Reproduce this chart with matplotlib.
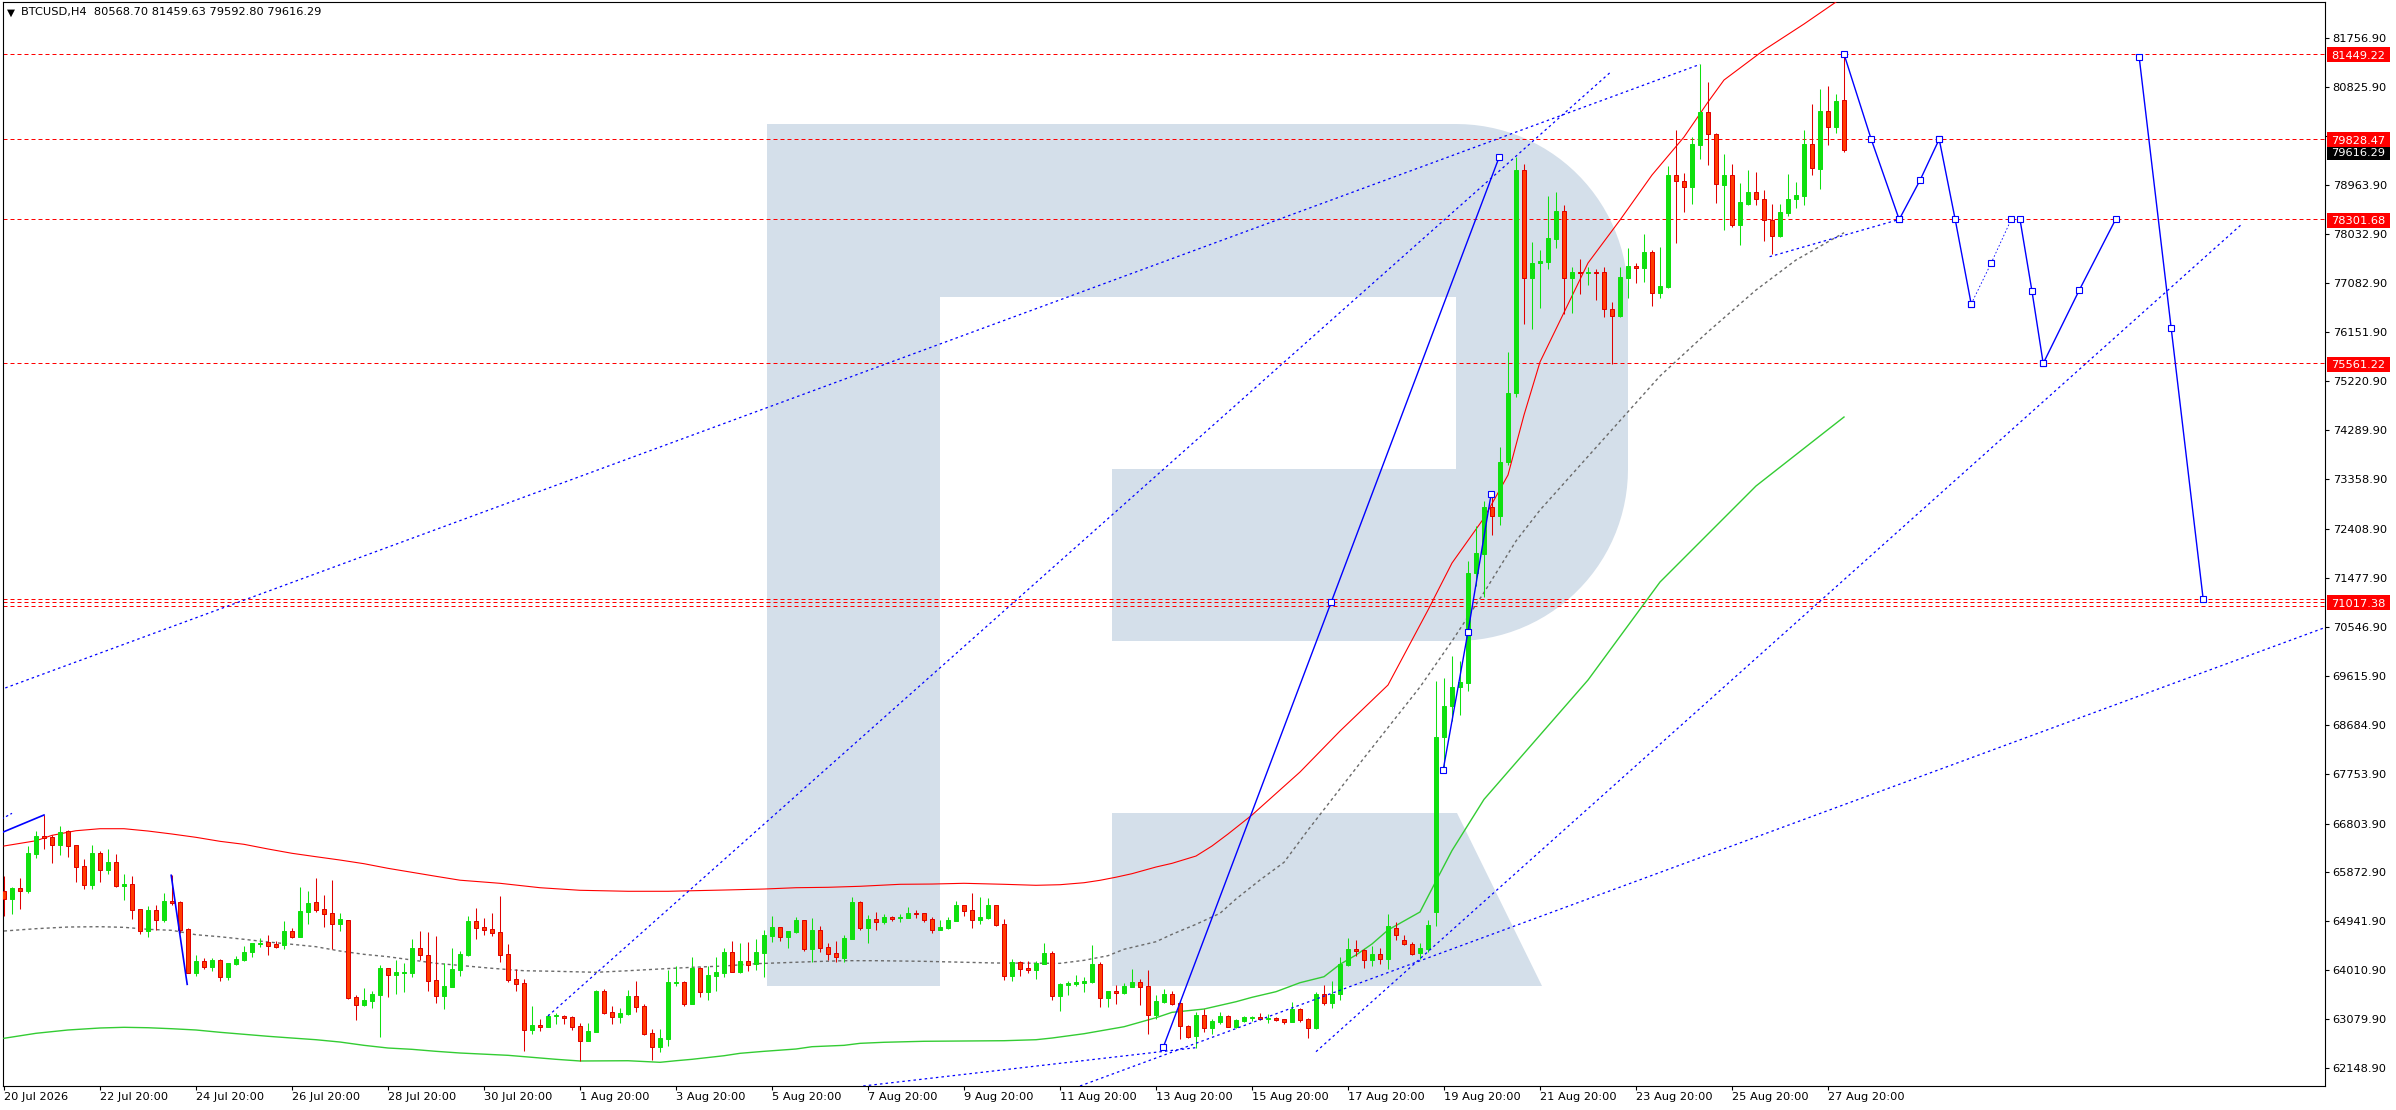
import numpy as np
import matplotlib
matplotlib.use("Agg")
import matplotlib.pyplot as plt
from matplotlib.patches import Rectangle, Polygon
from matplotlib.transforms import IdentityTransform

plt.rcParams['font.family'] = ['DejaVu Sans']

# ------------------------------------------------------------------ data
opens = [
    65519, 65374, 65570, 65526, 66230, 66566, 66547, 66401, 66655, 66395,
    65995, 65640, 66243, 65926, 66071, 65621, 65653, 65177, 64765, 65158,
    64974, 65329, 65310, 64796, 63965, 64181, 64079, 64200, 63889, 64136,
    64213, 64352, 64517, 64549, 64511, 64485, 64758, 64650, 65126, 65310,
    65177, 65101, 64898, 64961, 63502, 63350, 63432, 63546, 64054, 63927,
    63965, 63965, 64435, 64301, 63826, 63527, 63699, 64022, 64301,
    64948, 64834, 64796, 64733, 64320, 63845, 63769, 62880, 62969, 62937, 63134,
    63147, 63121, 62944, 62671, 62842, 63616, 63216, 63121, 63178, 63521,
    63331, 62817, 62557, 62703, 63769, 63788, 63375, 64060, 63604, 63908,
    63965, 64358, 63984, 64187, 64130, 64346, 64663, 64834, 64650, 64739,
    64968, 64422, 64777, 64454, 64340, 64244, 64606, 65310, 64822, 64987,
    64936, 65018, 64999, 65006, 65101, 65094,
    64987, 64784, 64815, 64955, 65253, 65158, 64974, 65006, 65253, 64891,
    63908, 64168, 64060, 64022, 64136, 64340, 63527, 63737, 63756, 63775,
    63794, 64130, 63489, 63610, 63572, 63699, 63781, 63711, 63166, 63413,
    63559, 63388, 62950, 62766, 63160, 62918, 63026, 63140, 62937, 63052,
    63096, 63115, 63090, 63102, 63083, 63033, 63274, 63083, 62918, 63565,
    63394, 63565, 64117, 64416, 64397, 64213, 64320, 64232,
    64815, 64587, 64511, 64333, 64416,
    65124, 68450, 69040, 69402, 69478, 71581, 71934, 72828, 72657, 73684, 74998,
    79242, 77193, 77466, 77498, 77935, 78456, 77193, 77301, 77276, 77307,
    77295, 76590, 76470, 77193, 77409, 77383, 77682, 76895, 77022, 79147,
    79026, 78912, 79724, 80346, 79921, 78963, 79141, 78189, 78601, 78817,
    78684, 78297, 77980, 78430, 78684, 78754, 79737, 79268, 80365, 80067, 80568.70]

highs = [
    65805, 65589, 65767, 66382, 66661, 66966, 66592, 66757, 66680, 66395,
    66128, 66395, 66274, 66319, 66224, 65843, 65805, 65177, 65234, 65253,
    65481, 65818, 65329, 64815, 64301, 64244, 64244, 64225, 64143, 64282,
    64479, 64523, 64619, 64682, 64574, 64948, 64822, 65596, 65526, 65767,
    65443, 65735, 65101, 64961, 63540, 63673, 63616, 64117, 64054, 64213,
    64155, 64606, 64758, 64739, 64663, 64149, 64435, 64384, 65044,
    65196, 65006, 65101, 65431, 64511, 64035, 63838, 63337, 63083, 63172, 63191,
    63159, 63140, 63007, 63007, 63635, 63654, 63331, 63293, 63635, 63807,
    63369, 62893, 62893, 64016, 64092, 63807, 64263, 64079, 64092, 64263,
    64435, 64568, 64530, 64549, 64606, 64777, 65044, 64834, 64758, 65018,
    64968, 65006, 64847, 64530, 64568, 64682, 65405, 65329, 65063, 65120,
    65082, 65044, 65082, 65215, 65158, 65094,
    65018, 64968, 65018, 65329, 65253, 65481, 65405, 65386, 65253, 64987,
    64225, 64187, 64187, 64187, 64530, 64378, 63775, 63813, 63927, 63889,
    64492, 64168, 63616, 63724, 63775, 64035, 63845, 64016, 63546, 63654,
    63616, 63420, 62969, 63223, 63274, 63083, 63216, 63153, 63083, 63140,
    63140, 63197, 63178, 63121, 63083, 63407, 63293, 63102, 63604, 63737,
    63813, 64263, 64625, 64587, 64416, 64473, 64435, 65082,
    64930, 64682, 64554, 64535, 64977,
    69516, 69573, 69992, 69897, 71800, 72466, 72933, 73018, 73970, 75778, 79497,
    79350, 77866, 77720, 78754, 78817, 78576, 77396, 77542, 77396, 77358,
    77396, 76724, 77396, 77758, 77466, 78030, 77720, 77777, 79325, 79997,
    79185, 79864, 81253, 80911, 79940, 79547, 79350, 78995, 79242, 79204,
    78862, 78595, 78595, 79166, 79014, 80003, 80498, 80784, 80841, 80689, 81459.63]

lows = [
    65050, 65088, 65177, 65488, 66154, 66319, 66059, 66205, 66173, 65697,
    65558, 65558, 65697, 65849, 65589, 65355, 64993, 64707, 64650, 64771,
    64936, 65253, 64726, 63952, 63908, 64035, 64003, 63813, 63826, 64117,
    64194, 64270, 64454, 64308, 64441, 64422, 64631, 64650, 64898, 65126,
    64841, 64422, 64765, 63464, 63064, 63331, 63299, 62747, 63508, 63566,
    63604, 63889, 64206, 63623, 63394, 63280, 63699, 63908, 64282,
    64612, 64688, 64669, 64175, 63794, 63623, 62481, 62804, 62855, 62937, 62988,
    62995, 62868, 62284, 62671, 62842, 63178, 62995, 63014, 63159, 63223,
    62785, 62303, 62462, 62576, 63718, 63337, 63375, 63508, 63451, 63623,
    63889, 63984, 63965, 64003, 64022, 63889, 64549, 64568, 64435, 64720,
    64384, 64168, 64358, 64206, 64168, 64168, 64606, 64777, 64530, 64777,
    64891, 64948, 64929, 65006, 65006, 64929,
    64720, 64784, 64796, 64955, 65044, 64815, 64891, 64987, 64853, 63832,
    63813, 63908, 63965, 63851, 64136, 63451, 63242, 63546, 63718, 63604,
    63775, 63318, 63318, 63375, 63565, 63686, 63356, 62804, 63090, 63394,
    63356, 62709, 62728, 62538, 62842, 62804, 62994, 62937, 62918, 63026,
    63052, 63071, 63014, 63052, 62995, 63033, 63033, 62728, 62899, 63356,
    63299, 63451, 64098, 64282, 64060, 64098, 64136, 64041,
    64587, 64492, 64301, 64219, 64365,
    64853, 67841, 68755, 68869, 69326, 71324, 71124, 72295, 72495, 73627, 74921,
    76320, 76222, 76622, 77364, 77764, 76495, 76514, 76876, 77047, 76768,
    76451, 75544, 76451, 76800, 77098, 77117, 76660, 76812, 77003, 77846,
    78449, 78601, 79458, 79344, 78620, 78107, 78164, 77821, 78582, 78582,
    77891, 77643, 77967, 78373, 78525, 78582, 79153, 78887, 79724, 79953, 79592.80]

closes = [
    65374, 65570, 65526, 66243, 66566, 66534, 66401, 66636, 66382, 65983,
    65640, 66243, 65926, 66071, 65621, 65646, 65164, 64765, 65158, 64974,
    65329, 65297, 64784, 63965, 64181, 64079, 64206, 63889, 64143, 64225,
    64352, 64523, 64536, 64479, 64460, 64758, 64650, 65139, 65291, 65164,
    65088, 64898, 64987, 63483, 63356, 63445, 63566, 64054, 63927, 63984,
    63984, 64435, 64295, 63813, 63527, 63711, 64035, 64320, 64948,
    64822, 64784, 64726, 64308, 63832, 63756, 62880, 62969, 62937, 63140, 63153,
    63109, 62937, 62671, 62855, 63616, 63197, 63128, 63197, 63521, 63318,
    62804, 62557, 62722, 63788, 63788, 63375, 64060, 63604, 63921, 63978,
    64358, 63984, 64187, 64117, 64358, 64682, 64834, 64650, 64758, 64968,
    64422, 64777, 64441, 64327, 64270, 64625, 65310, 64822, 64987, 64936,
    65018, 64987, 65025, 65101, 65082, 64974,
    64777, 64834, 64968, 65253, 65145, 64974, 65025, 65253, 64872, 63908,
    64174, 64041, 64022, 64149, 64340, 63527, 63756, 63775, 63794, 63813,
    64130, 63489, 63616, 63572, 63718, 63781, 63699, 63166, 63426, 63559,
    63375, 62956, 62747, 63160, 62918, 63045, 63140, 62937, 63064, 63121,
    63115, 63083, 63102, 63071, 63033, 63274, 63064, 62918, 63565, 63394,
    63565, 64130, 64416, 64378, 64213, 64320, 64232, 64853,
    64682, 64511, 64320, 64440, 64879,
    68450, 69040, 69402, 69497, 71581, 71952, 72828, 72657, 73684, 74998, 79242,
    77193, 77466, 77510, 77942, 78456, 77193, 77301, 77276, 77301, 77288,
    76590, 76470, 77199, 77415, 77383, 77682, 76895, 77034, 79147, 79026,
    78912, 79737, 80346, 79921, 78969, 79141, 78189, 78627, 78817, 78684,
    78297, 77980, 78436, 78684, 78760, 79737, 79274, 80365, 80067, 80555, 79616.29]

# Bollinger-type bands (bar index, value)
red_bars = [0, 4, 6, 9, 12, 15, 18, 21, 24, 27, 30, 33, 36, 39, 42, 45, 48, 51, 54, 57,
            62, 67, 72, 78, 83, 90, 95, 99, 103, 107, 112, 116, 120, 125, 129, 132, 135, 137, 139, 141,
            144, 146, 149, 151, 153, 156, 162, 167, 173, 178, 181, 185, 188, 190, 192, 198, 202, 206, 210, 213,
            215, 220, 225, 229]
red_vals = [66376, 66476, 66579, 66667, 66705, 66705, 66661, 66604, 66541, 66465,
            66408, 66319, 66237, 66172, 66109, 66039, 65951, 65875, 65799, 65725,
            65666, 65582, 65533, 65514, 65514, 65538, 65557, 65582, 65590, 65609,
            65647, 65652, 65666, 65647, 65628, 65639, 65677, 65723, 65782, 65849,
            65976, 66046, 66185, 66376, 66604, 66966, 67784, 68564, 69440, 70867,
            71762, 72619, 73437, 74579, 75588, 77472, 78290, 79147, 79870, 80536,
            80955, 81526, 82021, 82440]
gray_bars = [0, 4, 8, 12, 15, 18, 21, 24, 27, 30, 33, 36, 39, 42, 45, 48, 51, 54, 57, 61,
             65, 69, 74, 78, 82, 86, 90, 94, 101, 105, 109, 115, 124, 132, 135, 138, 140, 144, 146, 149,
             152, 154, 157, 160, 163, 170, 177, 181, 185, 189, 192, 207, 213, 219, 224, 230]
gray_vals = [64758, 64802, 64834, 64840, 64828, 64790, 64771, 64687, 64649, 64600,
             64549, 64505, 64459, 64377, 64314, 64269, 64206, 64143, 64103, 64048,
             64002, 63991, 63972, 64002, 64035, 64067, 64092, 64136, 64174, 64193,
             64193, 64181, 64149, 64143, 64200, 64288, 64410, 64554, 64695, 64885,
             65095, 65367, 65729, 66065, 66680, 68051, 69402, 70277, 71201, 72181,
             72770, 75321, 76164, 76958, 77529, 78049]
green_bars = [0, 4, 8, 12, 15, 18, 21, 24, 27, 30, 33, 36, 39, 42, 45, 48, 51, 54, 57, 63,
              69, 72, 78, 82, 84, 86, 90, 92, 95, 99, 101, 105, 107, 110, 115, 125, 129, 131, 135, 140,
              144, 146, 150, 154, 156, 159, 162, 165, 167, 169, 171, 173, 177, 179, 181, 185, 190, 198, 207, 219,
              230]
green_vals = [62716, 62811, 62874, 62912, 62925, 62917, 62898, 62874, 62830, 62792,
              62754, 62721, 62689, 62645, 62582, 62531, 62506, 62468, 62436, 62392,
              62316, 62284, 62289, 62259, 62289, 62316, 62384, 62430, 62468, 62512,
              62556, 62582, 62620, 62640, 62659, 62670, 62689, 62721, 62803, 62936,
              63108, 63210, 63273, 63412, 63496, 63603, 63774, 63888, 64124, 64301,
              64511, 64777, 65120, 65709, 66290, 67263, 68138, 69535, 71400, 73228,
              74541]

# horizontal levels
levels = [81449.22, 79828.47, 78301.68, 75561.22]
level_labels = ["81449.22", "79828.47", "78301.68", "75561.22"]
cluster_levels = [71082.0, 71017.38, 70952.0]
cluster_label = "71017.38"
last_price = 79616.29
last_label = "79616.29"

# dotted trend lines: (x0, x1), (y0, y1)
trend_x = [(-0.5, 212.0), (68.0, 200.8), (107.4, 149.0), (134.5, 290.2), (164.0, 279.6), (220.7, 236.9)]
trend_y = [(69347, 81253), (63140, 81102), (61808, 62538), (61808, 70538), (62461, 78195), (77592, 78301)]

# zig-zag / forecast segments (solid unless flagged dotted)
zz_x = [[144.9, 165.9, 186.9], [179.9, 183.0, 185.9],
        [230.0, 233.4, 236.9], [236.9, 239.5, 241.9], [241.9, 243.9, 245.9],
        [245.9, 248.4, 250.9], [252.0, 253.5, 254.9], [254.9, 259.4, 263.95],
        [266.9, 270.9, 274.9]]
zz_y = [[62544, 71017, 79489], [67826, 70453, 73079],
        [81449, 79828, 78301], [78301, 79046, 79828], [79828, 78301, 76692],
        [76692, 77472, 78301], [78301, 76933, 75561], [75561, 76953, 78301],
        [81387, 76229, 71071]]
zz_dotted = [False, False, False, False, False, True, False, False, False]
left_x = [[-0.2, 5.0], [20.9, 22.9]]
left_y = [[66636, 66966], [65818, 63743]]
left_dash_x = [-0.3, 1.0]
left_dash_y = [66890, 66998]

price_ticks = [81756.90, 80825.90, 79894.90, 78963.90, 78032.90, 77082.90, 76151.90,
               75220.90, 74289.90, 73358.90, 72408.90, 71477.90, 70546.90, 69615.90,
               68684.90, 67753.90, 66803.90, 65872.90, 64941.90, 64010.90, 63079.90, 62148.90]
date_ticks = list(range(0, 229, 12))
date_labels = ["20 Jul 2026", "22 Jul 20:00", "24 Jul 20:00", "26 Jul 20:00", "28 Jul 20:00",
               "30 Jul 20:00", "1 Aug 20:00", "3 Aug 20:00", "5 Aug 20:00", "7 Aug 20:00",
               "9 Aug 20:00", "11 Aug 20:00", "13 Aug 20:00", "15 Aug 20:00", "17 Aug 20:00",
               "19 Aug 20:00", "21 Aug 20:00", "23 Aug 20:00", "25 Aug 20:00", "27 Aug 20:00"]
title = "BTCUSD,H4  80568.70 81459.63 79592.80 79616.29"

# ------------------------------------------------------------------ figure
W, H, DPI = 2396, 1110, 100
fig = plt.figure(figsize=(W / DPI, H / DPI), dpi=DPI, facecolor='white')
L, T, R_, B = 3, 2, 2325, 1086
ax = fig.add_axes([L / W, (H - B) / H, (R_ - L) / W, (B - T) / H])
ax.set_facecolor('white')
ax.set_xlim(-0.125, 290.125)
ax.set_ylim(61808, 82440)

# ---- watermark logo (pixel geometry -> axes fraction)
def pxa(pts):
    return [((x - L) / (R_ - L), (B - y) / (B - T)) for x, y in pts]

logo_c = '#d4dfea'
rad = 172
t1 = np.linspace(np.pi / 2, 0, 30)
t2 = np.linspace(0, -np.pi / 2, 30)
bowl = [(767, 124)]
bowl += [(1628 - rad + rad * np.cos(t), 124 + rad - rad * np.sin(t)) for t in t1]
bowl += [(1628 - rad + rad * np.cos(t), 641 - rad - rad * np.sin(t)) for t in t2]
bowl += [(767, 641)]
ax.add_patch(Polygon(pxa(bowl), closed=True, transform=ax.transAxes, fc=logo_c, ec='none', zorder=0))
ax.add_patch(Polygon(pxa([(767, 124), (940, 124), (940, 986), (767, 986)]), closed=True,
                     transform=ax.transAxes, fc=logo_c, ec='none', zorder=0))
ax.add_patch(Polygon(pxa([(940, 297), (1456, 297), (1456, 469), (1112, 469), (1112, 641), (940, 641)]),
                     closed=True, transform=ax.transAxes, fc='white', ec='none', zorder=0.1))
ax.add_patch(Polygon(pxa([(1112, 813), (1457, 813), (1542, 986), (1112, 986)]), closed=True,
                     transform=ax.transAxes, fc=logo_c, ec='none', zorder=0.1))

# ---- horizontal levels
for lv in levels + cluster_levels:
    ax.axhline(lv, color='#ff0000', lw=0.72, ls=(0, (4, 3)), zorder=2)

# ---- bands
ax.plot(red_bars, red_vals, color='#ff0000', lw=0.8, zorder=3, solid_joinstyle='round')
ax.plot(gray_bars, gray_vals, color='#6a6a6a', lw=1.0, ls=(0, (2.2, 2.2)), zorder=3)
ax.plot(green_bars, green_vals, color='#33cc33', lw=1.0, zorder=3)

# ---- candles
o = np.array(opens, float); h = np.array(highs, float)
lo = np.array(lows, float); c = np.array(closes, float)
x = np.arange(len(o))
up = c >= o
dn = ~up
g_col = '#0fe00f'
r_fill = '#ff3c00'
r_edge = '#e00000'
ax.vlines(x[up], lo[up], h[up], color=g_col, lw=0.75, zorder=4)
ax.vlines(x[dn], lo[dn], h[dn], color=r_edge, lw=0.75, zorder=4)
ax.bar(x[up], (c - o)[up], bottom=o[up], width=0.5, color=g_col, edgecolor=g_col, lw=0.72, zorder=5)
ax.bar(x[dn], (o - c)[dn], bottom=c[dn], width=0.5, color=r_fill, edgecolor=r_edge, lw=0.72, zorder=5)

# ---- dotted trend lines
for tx, ty in zip(trend_x, trend_y):
    ax.plot(tx, ty, color='#0000ff', lw=0.9, ls=(0, (2, 2.5)), zorder=6)

# ---- zig-zags
for zx, zy, dot in zip(zz_x, zz_y, zz_dotted):
    ax.plot(zx, zy, color='#0000ff', lw=0.6 if dot else 1.0, ls=(0, (2, 2.5)) if dot else '-',
            marker='s', ms=4.2, mfc='white', mec='#0000ff', mew=0.8, zorder=7)
for lx, ly in zip(left_x, left_y):
    ax.plot(lx, ly, color='#0000ff', lw=1.2, zorder=7)
ax.plot(left_dash_x, left_dash_y, color='#0000ff', lw=0.9, ls=(0, (2, 2)), zorder=7)

# ---- axes styling
for sp in ax.spines.values():
    sp.set_color('black'); sp.set_linewidth(0.8)
ax.yaxis.tick_right()
ax.set_yticks(price_ticks)
ax.set_yticklabels([f"{v:.2f}" for v in price_ticks])
ax.set_xticks(date_ticks)
ax.set_xticklabels(date_labels, ha='left')
ax.tick_params(axis='y', direction='out', length=3, width=0.8, pad=2.5, labelsize=8.2, colors='black')
ax.tick_params(axis='x', direction='out', length=3, width=0.8, pad=1.5, labelsize=8.2, colors='black')

# ---- title
fig.text(7 / W, 1 - 13 / H, '\u25bc', fontsize=7.5, va='center', ha='left', color='black')
fig.text(21 / W, 1 - 12.5 / H, title, fontsize=8.2, va='center', ha='left', color='black')

# ---- price boxes on the right axis
ident = IdentityTransform()

def price_box(level, text, fc, z, dy=-0.7):
    yp = ax.transData.transform((0, level))[1] + dy
    fig.add_artist(Rectangle((2327, yp - 7.5), 63, 15, transform=ident, facecolor=fc,
                             edgecolor='none', zorder=z))
    fig.text(2358.5, yp, text, transform=ident, ha='center', va='center_baseline',
             color='white', fontsize=8.2, zorder=z + 1)

price_box(last_price, last_label, 'black', 20, dy=-2.0)
for lv, lb in zip(levels, level_labels):
    price_box(lv, lb, '#ff0000', 22)
price_box(cluster_levels[1], cluster_label, '#ff0000', 22)

fig.savefig('out.png', dpi=DPI, facecolor='white')
